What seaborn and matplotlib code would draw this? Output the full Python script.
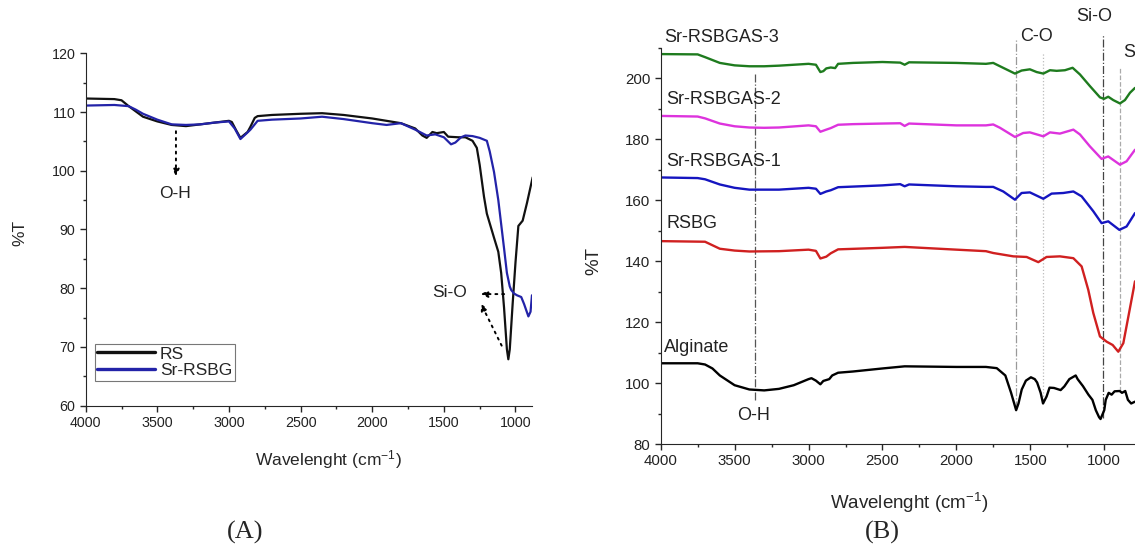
import pandas as pd
import matplotlib.pyplot as plt
import seaborn as sns
import numpy as np
from matplotlib.ticker import MultipleLocator

# (A) RS vs Sr-RSBG
rs_x = [4000, 3800, 3750, 3700, 3600, 3500, 3400, 3300, 3200, 3100, 3000, 2980, 2950, 2920, 2900, 2870,
        2850, 2820, 2800, 2700, 2500, 2350, 2200, 2000, 1900, 1800, 1700, 1650, 1620, 1580, 1550, 1500,
        1470, 1400, 1350, 1300, 1270, 1250, 1220, 1200, 1150, 1120, 1100, 1080, 1060, 1050, 1040, 1020,
        1000, 980, 950, 920, 880]
rs_y = [112.3, 112.2, 112.0, 111.0, 109.2, 108.4, 107.8, 107.6, 107.9, 108.2, 108.5, 108.3, 106.9, 105.6,
        106.0, 106.6, 107.5, 109.0, 109.3, 109.5, 109.7, 109.8, 109.5, 108.9, 108.5, 108.1, 107.2, 106.0,
        105.6, 106.6, 106.4, 106.6, 105.8, 105.7, 105.7, 105.1, 103.9, 101.0, 95.6, 92.7, 88.6, 86.2,
        82.6, 76.7, 69.6, 67.9, 69.6, 77.3, 84.4, 90.6, 91.5, 94.5, 98.9]

sr_x = [4000, 3800, 3700, 3650, 3600, 3500, 3400, 3300, 3200, 3100, 3000, 2960, 2920, 2880, 2850, 2800,
        2700, 2500, 2350, 2200, 2000, 1900, 1800, 1700, 1620, 1560, 1500, 1450, 1420, 1380, 1350, 1300,
        1250, 1200, 1180, 1150, 1120, 1100, 1080, 1060, 1040, 1030, 1010, 990, 960, 940, 910, 895, 885]
sr_y = [111.1, 111.2, 111.0, 110.4, 109.7, 108.7, 107.9, 107.8, 107.9, 108.2, 108.4, 107.2, 105.4, 106.3,
        107.0, 108.5, 108.7, 108.9, 109.2, 108.8, 108.1, 107.8, 108.1, 107.0, 106.0, 106.2, 105.7, 104.5,
        104.8, 105.7, 106.0, 105.9, 105.6, 105.1, 103.3, 99.8, 95.0, 90.9, 86.8, 82.6, 80.3, 79.7, 79.1,
        78.8, 78.5, 77.3, 75.2, 76.0, 78.8]

# (B) stacked spectra
g_x = [4000, 3750, 3700, 3600, 3500, 3400, 3300, 3200, 3000, 2950, 2920, 2900, 2880, 2850, 2820, 2800,
       2700, 2500, 2380, 2350, 2320, 2000, 1800, 1751, 1705, 1604, 1559, 1503, 1457, 1412, 1367, 1322,
       1266, 1214, 1164, 1097, 1029, 1002, 973, 939, 894, 860, 826, 792]
g_y = [208.0, 207.9, 207.0, 205.1, 204.3, 204.0, 204.0, 204.2, 204.8, 204.5, 202.1, 202.4, 203.3, 203.6,
       203.4, 204.8, 205.1, 205.4, 205.2, 204.5, 205.3, 205.1, 204.8, 205.1, 204.0, 201.6, 202.6, 203.0,
       202.1, 201.6, 202.7, 202.5, 202.7, 203.5, 201.3, 197.5, 193.8, 193.3, 194.0, 192.9, 191.8, 192.9,
       195.3, 196.9]

m_x = [4000, 3750, 3700, 3600, 3500, 3400, 3300, 3200, 3000, 2950, 2920, 2880, 2850, 2800, 2700, 2500,
       2380, 2350, 2320, 2000, 1800, 1751, 1705, 1604, 1548, 1503, 1412, 1367, 1300, 1209, 1164, 1097,
       1018, 973, 894, 849, 792]
m_y = [187.7, 187.5, 186.9, 185.2, 184.3, 183.9, 183.8, 183.9, 184.6, 184.3, 182.5, 183.2, 183.7, 184.8,
       185.0, 185.2, 185.3, 184.4, 185.2, 184.6, 184.6, 184.9, 183.8, 180.8, 182.1, 182.3, 181.0, 182.3,
       181.9, 183.2, 181.6, 177.7, 173.6, 174.4, 171.7, 172.8, 176.6]

b_x = [4000, 3750, 3700, 3600, 3500, 3400, 3200, 3000, 2950, 2920, 2880, 2850, 2800, 2500, 2380, 2350,
       2320, 2000, 1800, 1751, 1683, 1604, 1559, 1503, 1412, 1356, 1277, 1209, 1153, 1074, 1018, 973,
       898, 849, 792]
b_y = [167.5, 167.3, 166.9, 165.2, 164.1, 163.5, 163.5, 164.1, 163.8, 162.1, 162.9, 163.3, 164.3, 164.9,
       165.3, 164.6, 165.2, 164.6, 164.4, 164.4, 162.9, 160.2, 162.4, 162.6, 160.5, 162.2, 162.4, 162.9,
       161.3, 156.4, 152.5, 153.1, 150.3, 151.4, 155.8]

r_x = [4000, 3700, 3600, 3500, 3400, 3200, 3000, 2950, 2920, 2880, 2850, 2800, 2500, 2350, 2000, 1800,
       1751, 1615, 1525, 1446, 1390, 1300, 1209, 1153, 1108, 1074, 1029, 984, 943, 905, 871, 837, 792]
r_y = [146.6, 146.4, 144.1, 143.5, 143.2, 143.3, 143.8, 143.4, 140.9, 141.5, 142.6, 143.9, 144.4, 144.7,
       143.8, 143.3, 142.7, 141.6, 141.4, 139.7, 141.4, 141.6, 141.0, 138.3, 130.6, 123.0, 115.3, 113.6,
       112.5, 110.3, 113.1, 121.8, 133.4]

a_x = [4000, 3750, 3700, 3650, 3600, 3500, 3400, 3300, 3200, 3100, 3000, 2980, 2950, 2920, 2900, 2860,
       2840, 2800, 2700, 2500, 2350, 2000, 1800, 1727, 1669, 1630, 1596, 1580, 1558, 1530, 1496, 1470,
       1454, 1430, 1414, 1390, 1370, 1340, 1295, 1270, 1236, 1193, 1180, 1144, 1107, 1080, 1057, 1035,
       1025, 1000, 990, 970, 950, 930, 896, 880, 858, 840, 818, 792]
a_y = [106.5, 106.5, 106.1, 104.8, 102.5, 99.3, 97.9, 97.6, 98.1, 99.3, 101.3, 101.6, 100.8, 99.6, 100.7,
       101.3, 102.5, 103.4, 103.8, 104.8, 105.5, 105.3, 105.3, 104.9, 102.5, 96.8, 91.1, 93.3, 97.9,
       100.8, 101.9, 101.3, 100.2, 96.8, 93.3, 95.6, 98.5, 98.4, 97.7, 98.9, 101.3, 102.5, 101.3, 99.0,
       96.2, 94.5, 91.1, 88.8, 88.2, 91.1, 94.5, 96.8, 96.2, 97.3, 97.4, 96.8, 97.4, 94.5, 93.3, 93.9]

names_b = ['Alginate', 'RSBG', 'Sr-RSBGAS-1', 'Sr-RSBGAS-2', 'Sr-RSBGAS-3']
colors_b = ['#000000', '#d02020', '#1515c0', '#dd33dd', '#1e7b1e']
label_x = [3975, 3958, 3965, 3965, 3975]
label_y = [111.6, 152.3, 172.9, 193.2, 213.3]

# peak guide lines in (B)
peak_x = [3365, 1597, 1412, 1007, 894]
peak_top = [201.7, 213.4, 208.4, 214.7, 203.5]
peak_bot = [94.5, 91.5, 93.5, 88.5, 97.5]
peak_col = ['#555555', '#999999', '#bbbbbb', '#444444', '#aaaaaa']
peak_ls = ['-.', '-.', ':', '-.', '--']

sns.set_style('ticks')
plt.rcParams['font.family'] = ['Liberation Sans', 'DejaVu Sans']
plt.rcParams['mathtext.default'] = 'regular'

fig = plt.figure(figsize=(11.35, 5.46), dpi=100)
axA = fig.add_axes([0.0755, 0.257, 0.3932, 0.6454])
axB = fig.add_axes([0.5821, 0.1868, 0.4179, 0.7253])

# ---- panel A
dfA = pd.concat([
    pd.DataFrame({'wn': rs_x, 'T': rs_y, 'sample': 'RS'}),
    pd.DataFrame({'wn': sr_x, 'T': sr_y, 'sample': 'Sr-RSBG'}),
])
sns.lineplot(data=dfA, x='wn', y='T', hue='sample', palette={'RS': '#111111', 'Sr-RSBG': '#2323a8'},
             lw=1.6, ax=axA)
axA.set_xlim(4000, 885)
axA.set_ylim(60, 120)
axA.xaxis.set_major_locator(MultipleLocator(500))
axA.xaxis.set_minor_locator(MultipleLocator(250))
axA.yaxis.set_major_locator(MultipleLocator(10))
axA.yaxis.set_minor_locator(MultipleLocator(5))
axA.tick_params(which='major', length=4, width=1, labelsize=10.3, labelcolor='#222222')
axA.tick_params(which='minor', length=2.2, width=1)
sns.despine(ax=axA)
axA.set_xlabel('Wavelenght (cm$^{-1}$)', fontsize=12.5)
axA.xaxis.set_label_coords(0.544, -0.12)
axA.set_ylabel('%T', fontsize=12.5)
axA.yaxis.set_label_coords(-0.13, 0.49)

leg = axA.legend(loc='lower left', bbox_to_anchor=(0.02, 0.07), borderaxespad=0, fontsize=12.5,
                 frameon=True, fancybox=False, edgecolor='#777777', framealpha=1,
                 handlelength=3.3, handletextpad=0.3, borderpad=0.15, labelspacing=0.1)
leg.get_frame().set_linewidth(0.8)
for h in leg.get_lines():
    h.set_linewidth(2.4)

arw = dict(arrowstyle='-|>', linestyle=(0, (1, 2.5)), color='black', lw=1.4, mutation_scale=10)
axA.annotate('', xy=(3370, 98.6), xytext=(3370, 107.2), arrowprops=arw)
axA.text(3378, 96.1, 'O-H', fontsize=12.5, ha='center', va='center', color='#222222')
axA.annotate('', xy=(1262, 79.0), xytext=(1060, 79.0), arrowprops=arw)
axA.annotate('', xy=(1250, 77.8), xytext=(1088, 69.8), arrowprops=arw)
axA.text(1461, 79.2, 'Si-O', fontsize=12.5, ha='center', va='center', color='#222222')

# ---- panel B
dfB = pd.concat([
    pd.DataFrame({'wn': a_x, 'T': a_y, 'sample': names_b[0]}),
    pd.DataFrame({'wn': r_x, 'T': r_y, 'sample': names_b[1]}),
    pd.DataFrame({'wn': b_x, 'T': b_y, 'sample': names_b[2]}),
    pd.DataFrame({'wn': m_x, 'T': m_y, 'sample': names_b[3]}),
    pd.DataFrame({'wn': g_x, 'T': g_y, 'sample': names_b[4]}),
])
sns.lineplot(data=dfB, x='wn', y='T', hue='sample', hue_order=names_b, palette=colors_b,
             lw=1.7, legend=False, ax=axB)
for px, pt, pb, pc, pl in zip(peak_x, peak_top, peak_bot, peak_col, peak_ls):
    axB.plot([px, px], [pb, pt], color=pc, ls=pl, lw=0.9, clip_on=False, zorder=1)

axB.set_xlim(4000, 792)
axB.set_ylim(80, 210)
axB.xaxis.set_major_locator(MultipleLocator(500))
axB.xaxis.set_minor_locator(MultipleLocator(250))
axB.yaxis.set_major_locator(MultipleLocator(20))
axB.yaxis.set_minor_locator(MultipleLocator(10))
axB.tick_params(which='major', length=4, width=1, labelsize=10.8, labelcolor='#222222')
axB.tick_params(which='minor', length=2.2, width=1)
sns.despine(ax=axB)
axB.set_xlabel('Wavelenght (cm$^{-1}$)', fontsize=13.5)
axB.xaxis.set_label_coords(0.5235, -0.119)
axB.set_ylabel('%T', fontsize=13.5)
axB.yaxis.set_label_coords(-0.122, 0.462)

for nm, lx, ly in zip(names_b, label_x, label_y):
    axB.text(lx, ly, nm, fontsize=13, ha='left', va='center', color='#222222')
axB.text(3375, 89.3, 'O-H', fontsize=13, ha='center', va='center', color='#222222')
axB.text(1566, 213.7, 'C-O', fontsize=13, ha='left', va='center', color='#222222')
axB.text(1070, 220.2, 'Si-O', fontsize=13, ha='center', va='center', color='#222222')
axB.text(871, 208.6, 'Si-O', fontsize=13, ha='left', va='center', color='#222222')

fig.text(245 / 1135, 1 - 532 / 546, '(A)', family=['Liberation Serif', 'DejaVu Serif'],
         fontsize=19, ha='center', va='center')
fig.text(882 / 1135, 1 - 532 / 546, '(B)', family=['Liberation Serif', 'DejaVu Serif'],
         fontsize=19, ha='center', va='center')

fig.savefig('out.png', dpi=100)
